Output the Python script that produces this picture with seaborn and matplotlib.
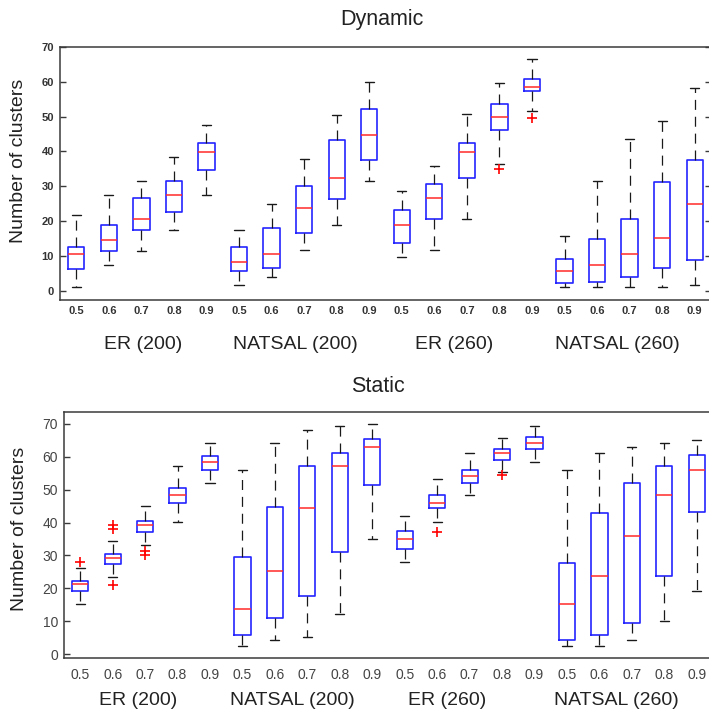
import matplotlib
matplotlib.use("Agg")
import matplotlib.pyplot as plt
import matplotlib.transforms as mtransforms
import pandas as pd
import seaborn as sns

# Categories
thresholds = ["0.5", "0.6", "0.7", "0.8", "0.9"]
networks = ["ER (200)", "NATSAL (200)", "ER (260)", "NATSAL (260)"]

# Dynamic: per-box summaries (lower whisker, Q1, median, Q3, upper whisker)
dyn_low = [1.0, 7.5, 11.5, 17.5, 27.5, 1.5, 3.8, 11.6, 18.8, 31.5,
           9.7, 11.6, 20.6, 36.5, 51.5, 1.0, 1.0, 1.0, 1.0, 1.5]
dyn_q1 = [6.2, 11.3, 17.4, 22.5, 34.7, 5.6, 6.5, 16.6, 26.3, 37.6,
          13.8, 20.6, 32.3, 46.1, 57.3, 2.1, 2.5, 3.9, 6.5, 8.7]
dyn_med = [10.6, 14.6, 20.6, 27.5, 39.7, 8.2, 10.6, 23.8, 32.5, 44.6,
           18.8, 26.7, 39.7, 50.0, 58.5, 5.6, 7.5, 10.6, 15.0, 25.0]
dyn_q3 = [12.5, 18.8, 26.6, 31.5, 42.5, 12.4, 18.1, 30.0, 43.2, 52.3,
          23.1, 30.7, 42.5, 53.5, 60.9, 9.0, 14.7, 20.6, 31.3, 37.6]
dyn_high = [21.7, 27.5, 31.5, 38.4, 47.5, 17.5, 24.8, 37.7, 50.6, 59.8,
            28.7, 35.7, 50.7, 59.7, 66.6, 15.6, 31.5, 43.5, 48.6, 58.3]
dyn_out_box = [13, 14]
dyn_out_val = [34.8, 49.7]

# Static: per-box summaries
sta_low = [15.3, 23.4, 33.3, 40.2, 52.0, 2.3, 4.3, 5.3, 12.3, 35.0,
           28.1, 40.2, 48.3, 55.5, 58.3, 2.3, 2.3, 4.3, 10.2, 19.2]
sta_q1 = [19.2, 27.4, 37.2, 46.0, 55.9, 5.7, 11.1, 17.8, 31.1, 51.5,
          31.8, 44.3, 52.0, 58.9, 62.2, 4.2, 5.7, 9.4, 23.8, 43.1]
sta_med = [21.2, 29.1, 39.1, 48.3, 58.3, 13.8, 25.2, 44.3, 57.1, 63.0,
           35.0, 46.0, 54.1, 61.2, 64.1, 15.3, 23.8, 35.9, 48.3, 56.0]
sta_q3 = [22.3, 30.3, 40.6, 50.5, 60.1, 29.6, 44.6, 57.1, 61.2, 65.5,
          37.3, 48.3, 55.9, 62.2, 66.0, 27.7, 42.8, 52.0, 57.2, 60.4]
sta_high = [26.3, 34.3, 45.0, 57.1, 64.1, 55.9, 64.1, 68.2, 69.3, 70.0,
            42.0, 53.1, 61.2, 65.7, 69.3, 55.9, 61.2, 63.0, 64.1, 65.2]
sta_out_box = [0, 1, 1, 1, 2, 2, 11, 13]
sta_out_val = [28.1, 39.2, 38.1, 21.1, 31.2, 30.1, 37.2, 54.3]

sns.set_style("ticks")
plt.rcParams["font.family"] = ["Liberation Sans", "DejaVu Sans"]

keys = [f"{n}|{t}" for n in networks for t in thresholds]

W, H = 709, 715
fig = plt.figure(figsize=(W / 100, H / 100), dpi=100)


def px_rect(left, top, right, bottom):
    return [left / W, 1 - bottom / H, (right - left) / W, (bottom - top) / H]


def panel(ax, low, q1, med, q3, high, out_box, out_val, ylim, tick_font,
          tick_color, group_x, group_y, right_ticks):
    rows = []
    for k, vals in zip(keys, zip(low, q1, med, q3, high)):
        for v in vals:
            rows.append({"box": k, "clusters": v})
    df = pd.DataFrame(rows)
    sns.boxplot(
        data=df, x="box", y="clusters", order=keys, ax=ax,
        whis=(0, 100), width=0.5, fill=False, linewidth=1.2,
        boxprops={"color": "#2424ff"},
        medianprops={"color": "#ff2a2a", "linewidth": 1.1},
        whiskerprops={"color": "#1a1a1a", "linestyle": (0, (8, 5.5)),
                      "linewidth": 0.9},
        capprops={"color": "#1a1a1a", "linewidth": 1.0},
        capwidths=0.28,
    )
    odf = pd.DataFrame({"box": [keys[i] for i in out_box], "clusters": out_val})
    sns.stripplot(data=odf, x="box", y="clusters", order=keys, ax=ax,
                  jitter=False, marker="+", color="red", size=6.5,
                  linewidth=1.2)
    ax.set_xlim(-0.5, 19.5)
    ax.set_ylim(*ylim)
    ax.set_xlabel("")
    ax.set_ylabel("")
    ax.set_xticks(range(len(keys)))
    ax.set_xticklabels(thresholds * len(networks))
    ax.set_yticks(range(0, 71, 10))
    for s in ax.spines.values():
        s.set_visible(True)
        s.set_color("#3a3a3a")
        s.set_linewidth(1.1)
    ax.tick_params(axis="x", length=0, pad=tick_font["pad_x"])
    ax.tick_params(axis="y", direction="in", length=4, width=1,
                   color="#3a3a3a", pad=4.3, right=right_ticks)
    for lab in ax.get_xticklabels() + ax.get_yticklabels():
        lab.set_fontsize(tick_font["size"])
        lab.set_fontweight(tick_font["weight"])
        lab.set_color(tick_color)
    trans = mtransforms.blended_transform_factory(ax.transData, ax.transAxes)
    for name, gx in zip(networks, group_x):
        ax.text(gx, group_y, name, transform=trans, ha="center", va="center",
                fontsize=14, color="#222222")


ax_dyn = fig.add_axes(px_rect(60, 47, 711, 300))
panel(ax_dyn, dyn_low, dyn_q1, dyn_med, dyn_q3, dyn_high,
      dyn_out_box, dyn_out_val, (-2.7, 70),
      {"size": 8, "weight": "bold", "pad_x": 4.0}, "#333333",
      [2.05, 6.72, 11.6, 16.61], -0.174, True)

ax_sta = fig.add_axes(px_rect(64, 412, 713, 658))
panel(ax_sta, sta_low, sta_q1, sta_med, sta_q3, sta_high,
      sta_out_box, sta_out_val, (-1.2, 73.6),
      {"size": 10, "weight": "normal", "pad_x": 7.0}, "#444444",
      [1.78, 6.53, 11.3, 16.51], -0.171, False)

fig.text(382 / W, 1 - 19 / H, "Dynamic", ha="center", va="center",
         fontsize=15.5, color="#222222")
fig.text(378 / W, 1 - 387 / H, "Static", ha="center", va="center",
         fontsize=15.5, color="#222222")
fig.text(19 / W, 1 - 161 / H, "Number of clusters", rotation=90,
         ha="center", va="center", fontsize=14, color="#222222")
fig.text(20 / W, 1 - 529 / H, "Number of clusters", rotation=90,
         ha="center", va="center", fontsize=14, color="#222222")

fig.savefig("out.png", dpi=100, facecolor="white")
